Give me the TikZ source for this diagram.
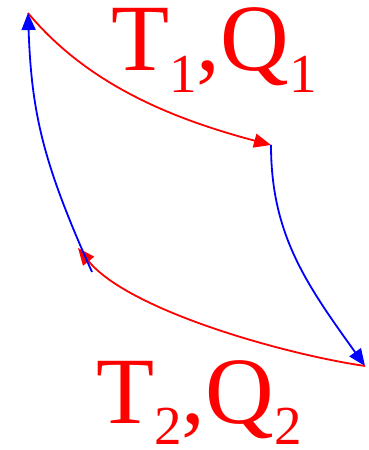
\documentclass[tikz,border=0pt]{standalone}
\usepackage{fontspec}
\setmainfont{Liberation Serif}
\usetikzlibrary{arrows.meta}
\newcommand{\lowidx}[1]{\raisebox{-0.23em}{\fontsize{55}{55}\selectfont #1}}

\begin{document}
\begin{tikzpicture}[x=1pt,y=1pt,>={Triangle[length=17pt,width=14pt]},line width=1.8pt,
  hot/.style={red,->},
  cold/.style={blue,->},
  lbl/.style={red,anchor=base west,inner sep=0pt,text height=0.68em,text depth=0.26em,
    font=\fontsize{95}{95}\selectfont}]
  \useasboundingbox (0,0) rectangle (368,450);
  % corners of the cycle
  \coordinate (A) at (28,437);   % top left
  \coordinate (B) at (271,305);  % right, middle
  \coordinate (C) at (365,84);   % bottom right
  \coordinate (D) at (78,202);   % end of the lower red curve
  \coordinate (E) at (92,178);   % foot of the left blue curve
  % hot and cold curves
  \draw[hot]  (A) .. controls (88,365) and (173,331) .. (B);
  \draw[cold] (B) .. controls (271,215) and (307,165) .. (C);
  \draw[hot]  (C) .. controls (283,96) and (128,140) .. (D);
  \draw[cold] (E) .. controls (43,287) and (31.5,337) .. (A);
  % labels
  \node[lbl] (hot) at (110.5,379) {T\lowidx{1},Q\lowidx{1}};
  \node[lbl] (cold) at (95.5,27) {T\lowidx{2},Q\lowidx{2}};
\end{tikzpicture}
\end{document}
